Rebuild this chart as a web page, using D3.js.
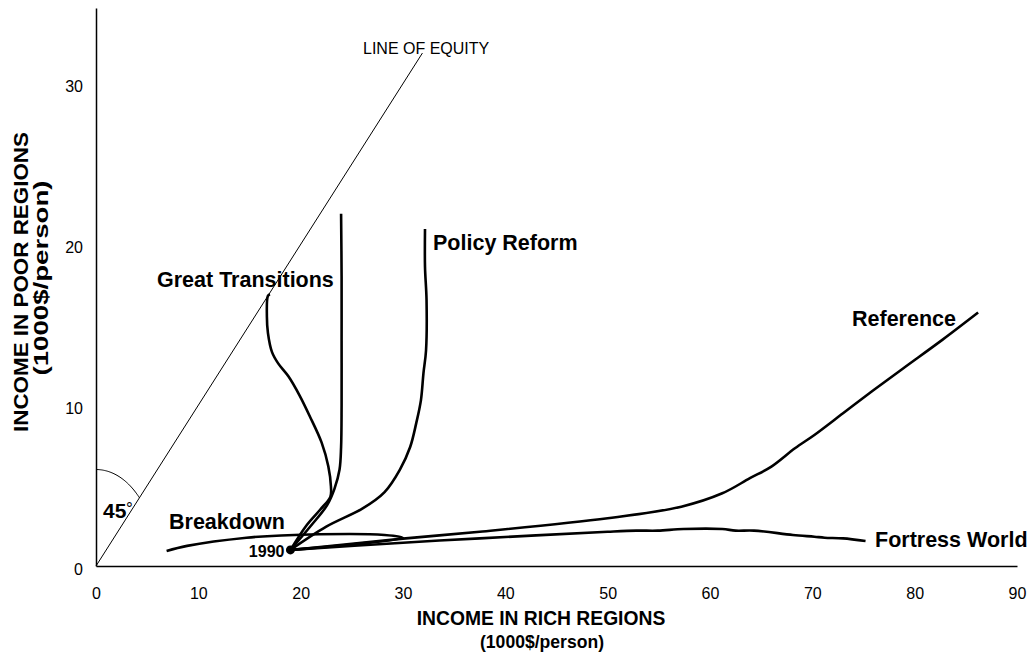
<!DOCTYPE html>
<html>
<head>
<meta charset="utf-8">
<script src="https://cdn.jsdelivr.net/npm/d3@7"></script>
<style>
  html, body { margin: 0; padding: 0; background: #fff; }
  svg { display: block; font-family: "Liberation Sans", Arial, Helvetica, sans-serif; }
</style>
</head>
<body>
<svg id="chart" width="1035" height="668"></svg>
<script>
// ---------- data ----------
const xTicks = [0, 10, 20, 30, 40, 50, 60, 70, 80, 90];
const yTicks = [0, 10, 20, 30];
const xDomain = [0, 90];
const yDomain = [0, 34.7];
const start1990 = [19, 1];

const equityLine = [[0, 0], [31.9, 31.9]];

const greatTransitions = [
  [19, 1], [20.6, 2.55], [21.9, 3.5], [22.9, 4.3], [22.96, 4.93], [22.7, 6.2],
  [22.05, 7.67], [20.9, 9.3], [19.9, 10.6], [18.8, 11.8], [17.8, 12.6],
  [17.2, 13.3], [16.8, 14.5], [16.7, 15.5], [16.8, 16.8], [17.0, 16.9]
];
const verticalPath = [
  [19, 1], [21, 2.5], [22.6, 3.8], [23.3, 4.8], [23.8, 6.0], [23.95, 7.4],
  [24, 10], [24, 14], [24, 18], [23.95, 21.9]
];
const policyReform = [
  [19, 1], [22.5, 2.45], [26.1, 3.6], [28.2, 4.6], [29.7, 6.0], [30.7, 7.4],
  [31.3, 8.9], [31.75, 10.3], [32.0, 12.0], [32.25, 13.4], [32.3, 16.55],
  [32.15, 18.6], [32.15, 20.95]
];
const breakdown = [
  [19, 1], [30.0, 1.75], [28.2, 1.93], [18.1, 1.9], [14.7, 1.76],
  [8.9, 1.25], [6.9, 0.93]
];
const reference = [
  [19, 1], [30, 1.7], [37.5, 2.13], [50.0, 2.97], [57.2, 3.69], [61.2, 4.52],
  [63.9, 5.46], [66.0, 6.18], [68.3, 7.32], [70.2, 8.15], [73.0, 9.5],
  [75.8, 10.85], [78.9, 12.3], [82.7, 14.06], [86.2, 15.76]
];
const fortressWorld = [
  [19, 1], [30, 1.45], [37.5, 1.72], [50, 2.13], [52.8, 2.2], [54.9, 2.2],
  [57.4, 2.3], [61.2, 2.3], [62.5, 2.2], [64.3, 2.2], [68.1, 1.93],
  [70.2, 1.82], [71.2, 1.76], [73.0, 1.72], [75.2, 1.56]
];
const scenarioPaths = [greatTransitions, verticalPath, policyReform, breakdown, reference, fortressWorld];

const curveLabels = ["Great Transitions", "Policy Reform", "Breakdown", "Reference", "Fortress World"];
const curveLabelPos = [[157, 287], [433, 250], [169, 529], [852, 326], [875, 547]];
const angleRadius = 6;   // data units (45° marker arc)

// ---------- drawing ----------
const svg = d3.select("#chart");
const x = d3.scaleLinear().domain(xDomain).range([96, 1017]);
const y = d3.scaleLinear().domain(yDomain).range([566, 8]);

// axes (lines only, labels)
const xAxis = d3.axisBottom(x).tickValues(xTicks).tickSize(0).tickPadding(22);
const gx = svg.append("g").attr("transform", `translate(0,${y(0)})`).call(xAxis);
gx.select(".domain").attr("stroke", "#000").attr("stroke-width", 1.5);
gx.selectAll("text").attr("font-size", 16).attr("fill", "#000")
  .attr("font-family", "Liberation Sans, Arial, sans-serif");

const yAxis = d3.axisLeft(y).tickValues(yTicks).tickSize(0).tickPadding(13);
const gy = svg.append("g").attr("transform", `translate(${x(0)},0)`).call(yAxis);
gy.select(".domain").attr("stroke", "#000").attr("stroke-width", 1.5);
gy.selectAll("text").attr("font-size", 16).attr("fill", "#000").attr("dy", "0.5em")
  .attr("font-family", "Liberation Sans, Arial, sans-serif");

// axis titles
svg.append("text").attr("x", 541).attr("y", 625).attr("text-anchor", "middle")
  .attr("font-size", 19.3).attr("font-weight", "bold").text("INCOME IN RICH REGIONS");
svg.append("text").attr("x", 542).attr("y", 648).attr("text-anchor", "middle")
  .attr("font-size", 19).attr("font-weight", "bold")
  .attr("textLength", 124).attr("lengthAdjust", "spacingAndGlyphs").text("(1000$/person)");
svg.append("text").attr("transform", "translate(28,282) rotate(-90)").attr("text-anchor", "middle")
  .attr("font-size", 21).attr("font-weight", "bold")
  .attr("textLength", 300).attr("lengthAdjust", "spacingAndGlyphs").text("INCOME IN POOR REGIONS");
svg.append("text").attr("transform", "translate(48,278) rotate(-90)").attr("text-anchor", "middle")
  .attr("font-size", 21).attr("font-weight", "bold")
  .attr("textLength", 195).attr("lengthAdjust", "spacingAndGlyphs").text("(1000$/person)");

const line = d3.line().x(d => x(d[0])).y(d => y(d[1]));

// equity line
svg.append("path").datum(equityLine).attr("d", line)
  .attr("fill", "none").attr("stroke", "#000").attr("stroke-width", 1);
svg.append("text").attr("x", 363).attr("y", 54).attr("font-size", 16)
  .text("LINE OF EQUITY");

// 45° arc (data-space circle from vertical to the equity line)
const arcPts = d3.range(0, 46, 1).map(a => {
  const t = a * Math.PI / 180;
  return [angleRadius * Math.sin(t), angleRadius * Math.cos(t)];
});
svg.append("path").datum(arcPts).attr("d", line)
  .attr("fill", "none").attr("stroke", "#000").attr("stroke-width", 1);
svg.append("text").attr("x", 103).attr("y", 518).attr("font-size", 21)
  .attr("font-weight", "bold").text("45");
svg.append("text").attr("x", 126).attr("y", 514).attr("font-size", 17)
  .text("°");

// scenario curves
const smooth = d3.line().x(d => x(d[0])).y(d => y(d[1])).curve(d3.curveCatmullRom.alpha(0.5));
svg.append("g").selectAll("path").data(scenarioPaths).join("path")
  .attr("d", smooth).attr("fill", "none").attr("stroke", "#000")
  .attr("stroke-width", 2.6).attr("stroke-linejoin", "round").attr("stroke-linecap", "butt");

// 1990 start dot
svg.append("circle").attr("cx", x(start1990[0])).attr("cy", y(start1990[1])).attr("r", 4.5).attr("fill", "#000");
svg.append("text").attr("x", x(start1990[0]) - 6).attr("y", 557).attr("text-anchor", "end")
  .attr("font-size", 16).attr("font-weight", "bold").text("1990");

// curve labels
svg.append("g").selectAll("text").data(curveLabels).join("text")
  .attr("x", (d, i) => curveLabelPos[i][0]).attr("y", (d, i) => curveLabelPos[i][1])
  .attr("font-size", 21.5).attr("font-weight", "bold").text(d => d);
</script>
</body>
</html>
